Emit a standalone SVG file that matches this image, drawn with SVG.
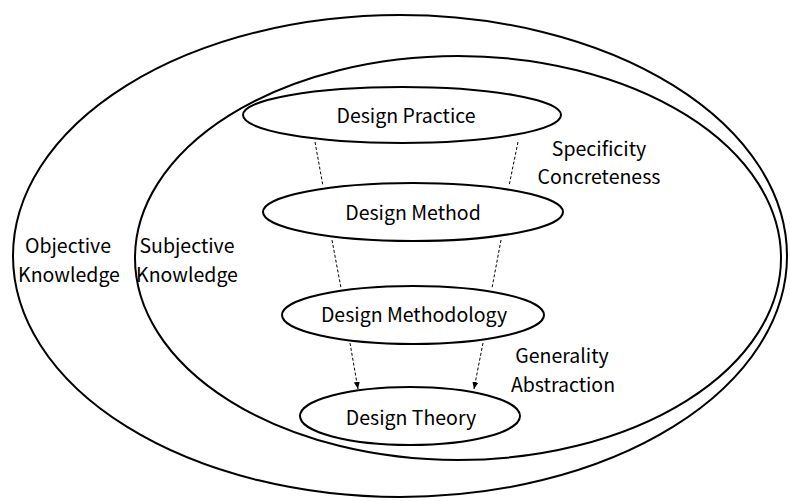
<svg xmlns="http://www.w3.org/2000/svg" width="790" height="501" viewBox="0 0 790 501">
<style>
.e{fill:none;stroke:#000;stroke-width:2}
.n{fill:#fff;stroke:#000;stroke-width:2}
.d{fill:none;stroke:#000;stroke-width:1;stroke-dasharray:3,2}
text{font-family:"Noto Sans CJK JP","Noto Sans",sans-serif;font-size:19.5px;fill:#000;text-anchor:middle}
</style>
<defs>
<marker id="ah" markerWidth="8" markerHeight="8" refX="7" refY="4" orient="auto" markerUnits="userSpaceOnUse">
<path d="M0,1 L7,4 L0,7 Z" fill="#000"/>
</marker>
</defs>
<rect width="790" height="501" fill="#fff"/>
<g id="objective">
<ellipse class="e" cx="400" cy="256" rx="387" ry="241"/>
<text x="68" y="253">Objective</text>
<text x="69" y="282">Knowledge</text>
</g>
<g id="subjective">
<ellipse class="e" cx="458" cy="258" rx="323" ry="202"/>
<text x="187" y="253">Subjective</text>
<text x="187" y="282">Knowledge</text>
</g>
<g id="connectors">
<line class="d" x1="315" y1="142" x2="323" y2="186"/>
<line class="d" x1="518" y1="142" x2="509" y2="186"/>
<line class="d" x1="332" y1="240" x2="341" y2="288"/>
<line class="d" x1="501" y1="240" x2="492" y2="288"/>
<line class="d" x1="350" y1="343" x2="358" y2="389" marker-end="url(#ah)"/>
<line class="d" x1="483" y1="343" x2="474" y2="389" marker-end="url(#ah)"/>
</g>
<g id="practice">
<ellipse class="n" cx="402" cy="115" rx="159" ry="28"/>
<text x="406" y="123">Design Practice</text>
</g>
<g id="method">
<ellipse class="n" cx="413" cy="212" rx="150" ry="29"/>
<text x="413" y="220">Design Method</text>
</g>
<g id="methodology">
<ellipse class="n" cx="413" cy="315" rx="131" ry="29"/>
<text x="414" y="322">Design Methodology</text>
</g>
<g id="theory">
<ellipse class="n" cx="410" cy="416" rx="110" ry="29"/>
<text x="411" y="425">Design Theory</text>
</g>
<g id="labels">
<text x="599" y="156">Specificity</text>
<text x="599" y="184">Concreteness</text>
<text x="562" y="363">Generality</text>
<text x="563" y="392">Abstraction</text>
</g>
</svg>
